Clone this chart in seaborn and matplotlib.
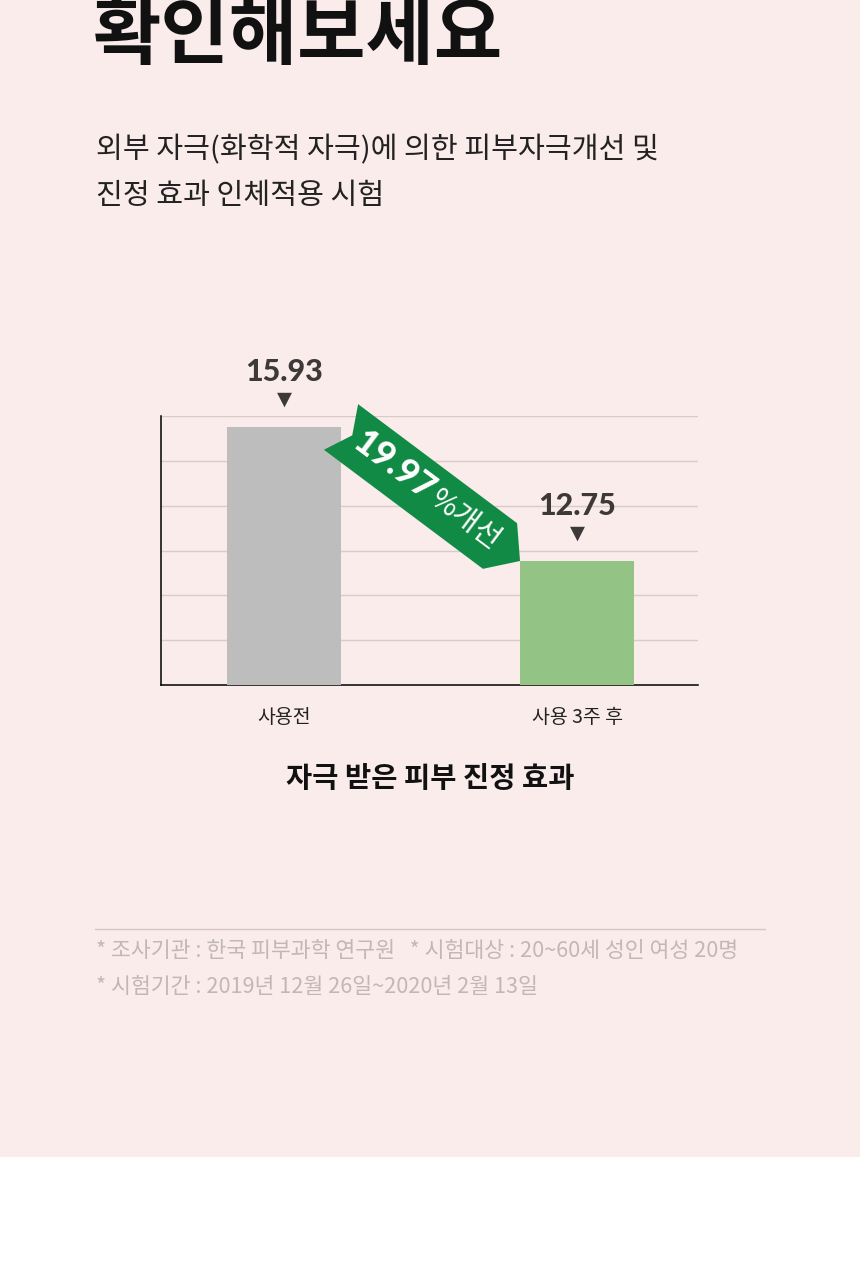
import numpy as np
import pandas as pd
import matplotlib
matplotlib.use("Agg")
import matplotlib.pyplot as plt
import seaborn as sns
from matplotlib.patches import Polygon, Rectangle
from matplotlib.lines import Line2D

# ---------------- data ----------------
categories = ["사용전", "사용 3주 후"]
values = [15.93, 12.75]
value_labels = ["15.93", "12.75"]
improve_num = "19.97"
improve_txt = "%개선"
title_big = "확인해보세요"
subtitle = ["외부 자극(화학적 자극)에 의한 피부자극개선 및", "진정 효과 인체적용 시험"]
chart_title = "자극 받은 피부 진정 효과"
footnotes = ["* 조사기관 : 한국 피부과학 연구원   * 시험대상 : 20~60세 성인 여성 20명",
             "* 시험기간 : 2019년 12월 26일~2020년 2월 13일"]

# ---------------- style ----------------
PINK = "#FAECEA"
GRAY_BAR = "#BDBDBD"
GREEN_BAR = "#93C385"
RIBBON = "#108A44"
DARK = "#3D3939"
GRID = "#D9CBC9"

sns.set_theme(style="white")
plt.rcParams['font.family'] = ['Noto Sans CJK KR', 'DejaVu Sans']

W, H = 860, 1280
fig = plt.figure(figsize=(W / 100, H / 100), dpi=100)
fig.patch.set_facecolor(PINK)
fig.add_artist(Rectangle((0, 0), 1, 1 - 1157 / H, transform=fig.transFigure,
                         facecolor="white", edgecolor="none", zorder=0))

def fx(px):
    return px / W

def fy(py):
    return 1 - py / H

# headings
fig.text(fx(93), fy(58), title_big, fontsize=53.5, fontweight="bold", color="#111111",
         ha="left", va="baseline")
fig.text(fx(96), fy(150), subtitle[0], fontsize=21, color="#222222", ha="left", va="center")
fig.text(fx(96), fy(196), subtitle[1], fontsize=21, color="#222222", ha="left", va="center")

# ---------------- chart ----------------
ax = fig.add_axes([fx(161), fy(685), fx(698) - fx(161), fy(416) - fy(685)])
ax.set_facecolor("none")
df = pd.DataFrame({"cat": categories, "val": values})
sns.barplot(data=df, x="cat", y="val", hue="cat", palette=[GRAY_BAR, GREEN_BAR],
            width=0.389, legend=False, ax=ax, saturation=1, zorder=3, linewidth=0)

ymin, ymax = 9.808, 16.19
ax.set_ylim(ymin, ymax)
ax.set_xlim(-0.42, 1.413)
ax.set_yticks(np.linspace(ymin, ymax, 7))
ax.set_yticklabels([])
ax.grid(axis="y", color=GRID, lw=1, zorder=0)
ax.grid(axis="x", visible=False)
ax.set_axisbelow(True)
for s in ["top", "right"]:
    ax.spines[s].set_visible(False)
for s in ["left", "bottom"]:
    ax.spines[s].set_color("black")
    ax.spines[s].set_linewidth(1.1)
ax.tick_params(axis="y", length=0)
ax.tick_params(axis="x", length=0, pad=16, labelsize=14, labelcolor="#222222")
ax.set_xlabel("")
ax.set_ylabel("")

# value labels & triangles
for i, (v, lab) in enumerate(zip(values, value_labels)):
    ax.annotate(lab, (i, v), xytext=(0, 39.6), textcoords="offset points",
                ha="center", va="center", fontsize=22, fontweight="black",
                family=["Lato", "DejaVu Sans"], color=DARK)
    ax.annotate("▼", (i, v), xytext=(0, 20.2), textcoords="offset points",
                ha="center", va="center", fontsize=14, family=["DejaVu Sans"], color=DARK)

# ribbon from bar1 top-right corner to bar2 top-left corner
bw = 0.389
P0 = ax.transData.transform((0 + bw / 2, values[0]))
P1 = ax.transData.transform((1 - bw / 2, values[1]))
d = P1 - P0
L = np.hypot(*d)
u = d / L
n = np.array([-u[1], u[0]])
h = 28.5
tip_len = 25
notch = 14
poly_disp = np.array([
    P0 + h * n,
    P1 - tip_len * u + h * n,
    P1,
    P1 - tip_len * u - h * n,
    P0 - h * n,
    P0 + notch * u,
])
inv = ax.transData.inverted()
poly_data = inv.transform(poly_disp)
ax.add_patch(Polygon(poly_data, closed=True, facecolor=RIBBON, edgecolor="none",
                     zorder=5, clip_on=False))
ang = np.degrees(np.arctan2(d[1], d[0]))
c1 = inv.transform(P0 + 66 * u)
c2 = inv.transform(P0 + 155 * u)
ax.text(c1[0], c1[1], improve_num, rotation=ang, rotation_mode="anchor", ha="center",
        va="center", fontsize=26, fontweight="black", family=["Lato", "DejaVu Sans"],
        color="white", zorder=6, clip_on=False)
ax.text(c2[0], c2[1], improve_txt, rotation=ang, rotation_mode="anchor", ha="center",
        va="center", fontsize=21, color="white", zorder=6, clip_on=False)

# chart title
fig.text(fx(430), fy(779), chart_title, fontsize=20.5, fontweight="bold", color="#111111",
         ha="center", va="center")

# footer
fig.add_artist(Line2D([fx(95), fx(765)], [fy(929), fy(929)], color="#D8C6C4", lw=1))
fig.text(fx(96), fy(951), footnotes[0], fontsize=15.6, color="#C2B7B6", ha="left", va="center")
fig.text(fx(96), fy(987), footnotes[1], fontsize=15.6, color="#C2B7B6", ha="left", va="center")

fig.savefig("out.png", dpi=100, facecolor=fig.get_facecolor())
